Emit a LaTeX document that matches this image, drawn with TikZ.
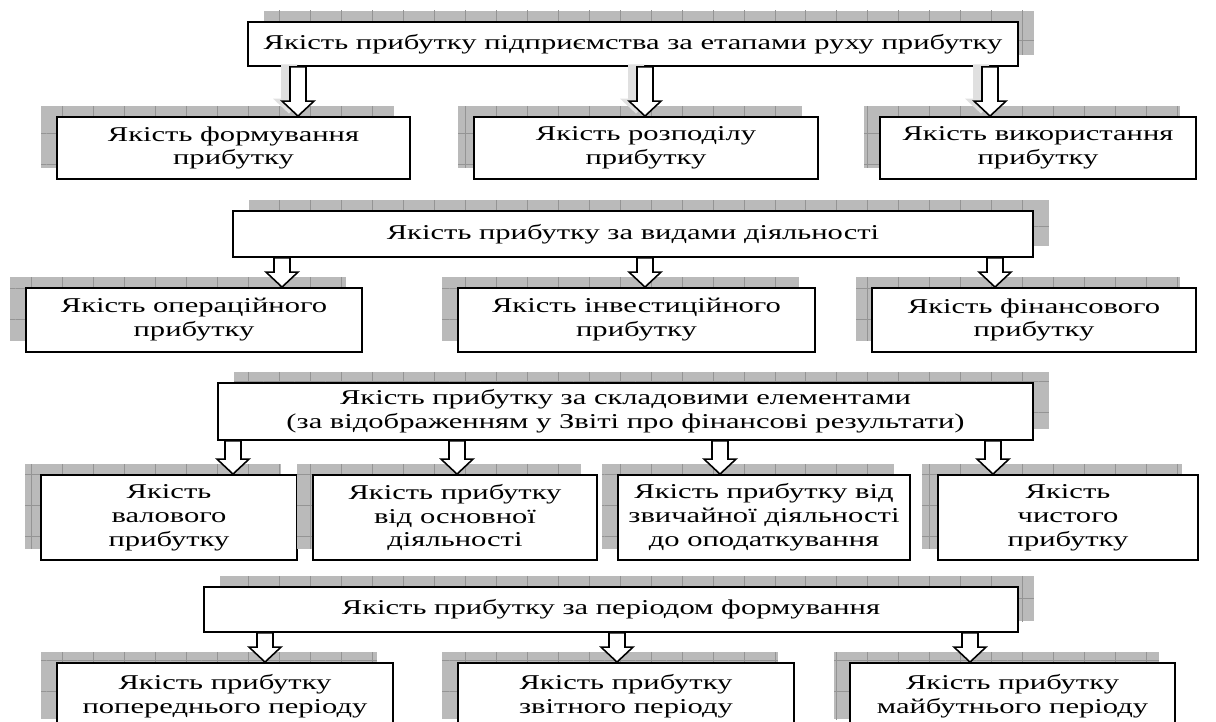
\documentclass[tikz,border=0pt]{standalone}
\usepackage{fontspec}
\setmainfont{Liberation Serif}[FakeStretch=1.45]
\usetikzlibrary{calc,shadows,patterns.meta}

\tikzset{
	box/.style={draw, line width=1.05pt, fill=white, inner sep=0pt, align=center,
		font=\fontsize{12}{13.6}\selectfont},
	shadeleft/.style={general shadow={fill=black!27, shadow xshift=-0.32cm, shadow yshift=0.22cm},
		general shadow={pattern={Lines[distance=0.62cm, angle=90, line width=0.4pt]},
			pattern color=black!42, shadow xshift=-0.32cm, shadow yshift=0.22cm},
		general shadow={pattern={Lines[distance=0.62cm, angle=0, line width=0.4pt]},
			pattern color=black!42, shadow xshift=-0.32cm, shadow yshift=0.22cm}},
	shaderight/.style={general shadow={fill=black!27, shadow xshift=0.32cm, shadow yshift=0.22cm},
		general shadow={pattern={Lines[distance=0.62cm, angle=90, line width=0.4pt]},
			pattern color=black!42, shadow xshift=0.32cm, shadow yshift=0.22cm},
		general shadow={pattern={Lines[distance=0.62cm, angle=0, line width=0.4pt]},
			pattern color=black!42, shadow xshift=0.32cm, shadow yshift=0.22cm}},
	barrow/.style={draw, line width=0.9pt, fill=white,
		to path={let \p1=(\tikztostart), \p2=(\tikztotarget) in
			(\x1-0.16cm,\y1) -- (\x1+0.16cm,\y1) -- (\x1+0.16cm,\y2+0.3cm) -- (\x1+0.32cm,\y2+0.3cm)
			-- (\x1,\y2) -- (\x1-0.32cm,\y2+0.3cm) -- (\x1-0.16cm,\y2+0.3cm) -- cycle}},
	barrowshade/.style={barrow, preaction={fill=black!12, transform canvas={xshift=-0.18cm, yshift=0.05cm}}}
}

\begin{document}
\begin{tikzpicture}[x=0.02cm, y=0.02cm]
	\useasboundingbox (0,0) rectangle (1216,-722);
	\clip (0,0) rectangle (1216,-722);

	% etapy rukhu prybutku
	\node[box, shaderight, minimum width=15.4cm, minimum height=0.88cm] (etapy) at (633,-44) {Якість прибутку підприємства за етапами руху прибутку};
	\node[box, shadeleft, minimum width=7.06cm, minimum height=1.24cm] (formuv) at (233.5,-148) {Якість формування\\прибутку};
	\node[box, shadeleft, minimum width=6.88cm, minimum height=1.24cm] (rozpod) at (646,-148) {Якість розподілу\\прибутку};
	\node[box, shadeleft, minimum width=6.32cm, minimum height=1.24cm] (vykor) at (1038,-148) {Якість використання\\прибутку};
	\draw[barrowshade] (298,0 |- etapy.south) to (298,0 |- formuv.north);
	\draw[barrowshade] (645,0 |- etapy.south) to (645,0 |- rozpod.north);
	\draw[barrowshade] (990,0 |- etapy.south) to (990,0 |- vykor.north);

	% vydy diialnosti
	\node[box, shaderight, minimum width=16cm, minimum height=0.92cm] (vydy) at (633,-234) {Якість прибутку за видами діяльності};
	\node[box, shadeleft, minimum width=6.72cm, minimum height=1.28cm] (oper) at (194,-320) {Якість операційного\\прибутку};
	\node[box, shadeleft, minimum width=7.14cm, minimum height=1.28cm] (invest) at (636.5,-320) {Якість інвестиційного\\прибутку};
	\node[box, shadeleft, minimum width=6.48cm, minimum height=1.28cm] (fin) at (1034,-320) {Якість фінансового\\прибутку};
	\draw[barrow] (282,0 |- vydy.south) to (282,0 |- oper.north);
	\draw[barrow] (645,0 |- vydy.south) to (645,0 |- invest.north);
	\draw[barrow] (995,0 |- vydy.south) to (995,0 |- fin.north);

	% skladovi elementy
	\node[box, shaderight, minimum width=16.3cm, minimum height=1.14cm] (sklad) at (625.5,-411.5) {Якість прибутку за складовими елементами\\(за відображенням у Звіті про фінансові результати)};
	\node[box, shadeleft, minimum width=5.12cm, minimum height=1.7cm] (val) at (169,-517.5) {Якість\\валового\\прибутку};
	\node[box, shadeleft, minimum width=5.68cm, minimum height=1.7cm] (osn) at (455,-517.5) {Якість прибутку\\від основної\\діяльності};
	\node[box, shadeleft, minimum width=5.84cm, minimum height=1.7cm] (zvych) at (764,-517.5) {Якість прибутку від\\звичайної діяльності\\до оподаткування};
	\node[box, shadeleft, minimum width=5.2cm, minimum height=1.7cm] (chyst) at (1068,-517.5) {Якість\\чистого\\прибутку};
	\draw[barrow] (233,0 |- sklad.south) to (233,0 |- val.north);
	\draw[barrow] (457,0 |- sklad.south) to (457,0 |- osn.north);
	\draw[barrow] (720,0 |- sklad.south) to (720,0 |- zvych.north);
	\draw[barrow] (993,0 |- sklad.south) to (993,0 |- chyst.north);

	% period formuvannia
	\node[box, shaderight, minimum width=16.28cm, minimum height=0.9cm] (period) at (611,-609.5) {Якість прибутку за періодом формування};
	\node[box, shadeleft, minimum width=6.72cm, minimum height=1.34cm] (poper) at (225,-696.5) {Якість прибутку\\попереднього періоду};
	\node[box, shadeleft, minimum width=6.72cm, minimum height=1.34cm] (zvit) at (626,-696.5) {Якість прибутку\\звітного періоду};
	\node[box, shadeleft, minimum width=6.5cm, minimum height=1.34cm] (maib) at (1012.5,-696.5) {Якість прибутку\\майбутнього періоду};
	\draw[barrow] (265,0 |- period.south) to (265,0 |- poper.north);
	\draw[barrow] (617,0 |- period.south) to (617,0 |- zvit.north);
	\draw[barrow] (970,0 |- period.south) to (970,0 |- maib.north);
\end{tikzpicture}
\end{document}
